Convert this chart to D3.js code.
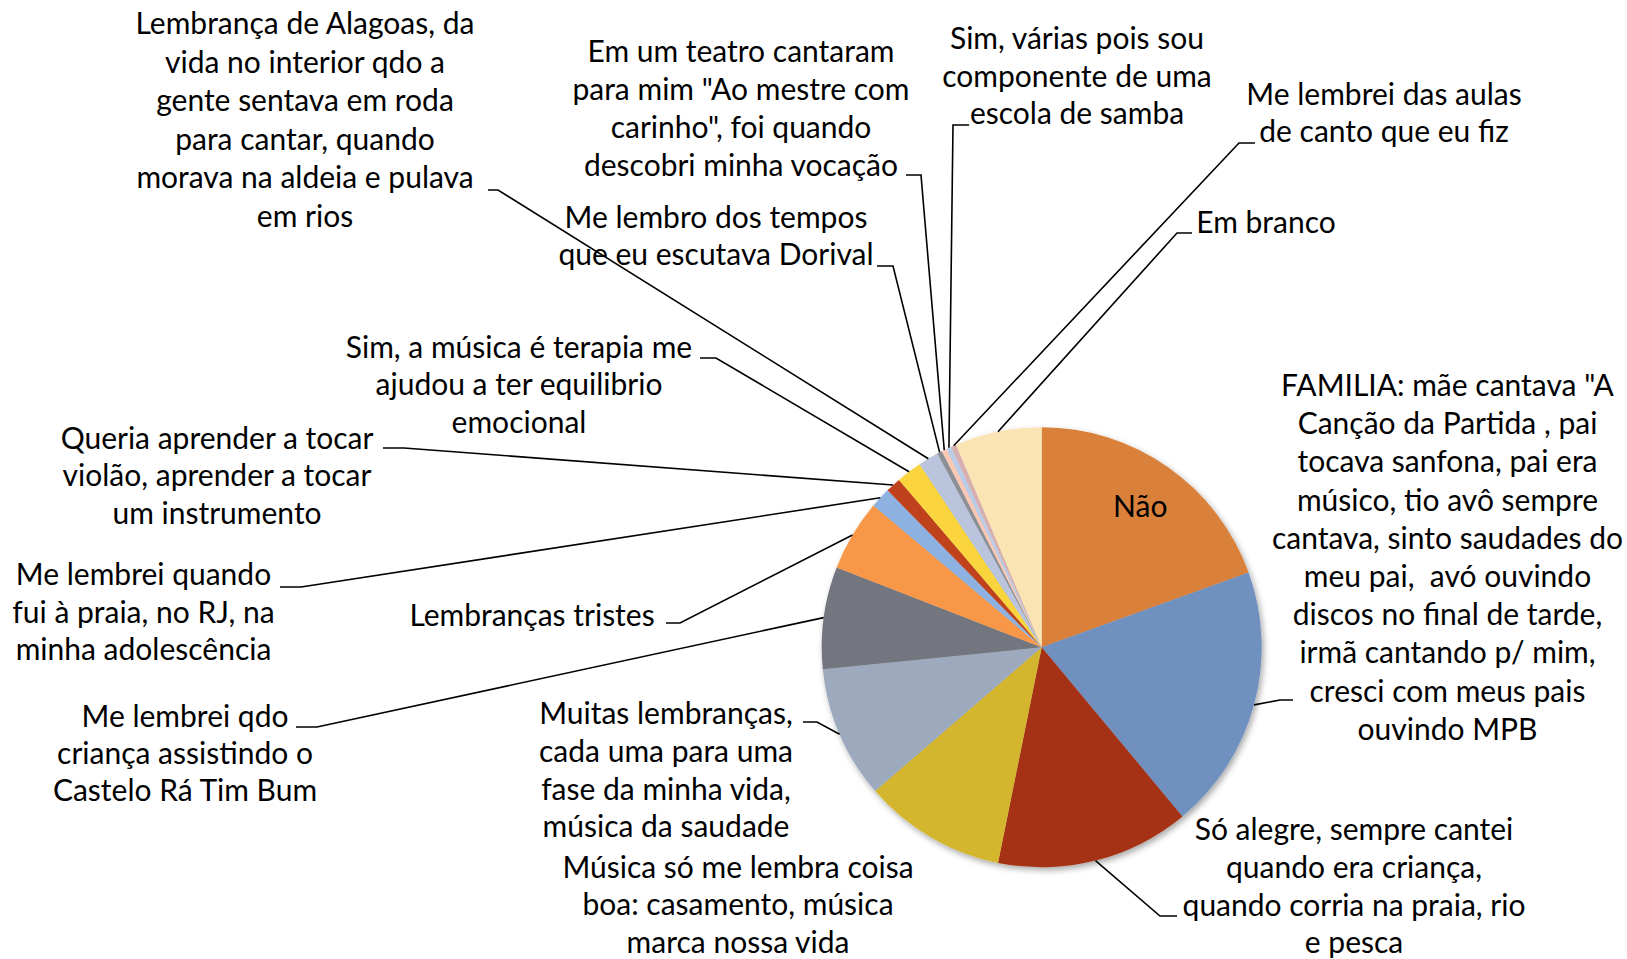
<!DOCTYPE html>
<html>
<head>
<meta charset="utf-8">
<script src="https://cdn.jsdelivr.net/npm/d3@7"></script>
<style>
  body { margin: 0; background: #fff; }
  svg text { font-family: Lato, "Open Sans", sans-serif; fill: #000; white-space: pre; }
</style>
</head>
<body>
<div id="vis-container"></div>
<script>
// answers, clockwise from 12 o'clock
var categories = ["Não", "Família", "Só alegre", "Música só me lembra coisa boa", "Muitas lembranças",
  "Castelo Rá Tim Bum", "Lembranças tristes", "Praia no RJ", "Aprender violão", "Terapia",
  "Alagoas", "Dorival", "Teatro", "Escola de samba", "Aulas de canto", "Em branco"];
var counts = [52, 52, 38, 28, 26, 20, 14, 4, 3, 5, 4, 1, 1, 1, 1, 17];
var labelLines = [
  ["Não"],
  ["FAMILIA: mãe cantava \"A", "Canção da Partida , pai", "tocava sanfona, pai era", "músico, tio avô sempre",
   "cantava, sinto saudades do", "meu pai,  avó ouvindo", "discos no final de tarde,", "irmã cantando p/ mim,",
   "cresci com meus pais", "ouvindo MPB"],
  ["Só alegre, sempre cantei", "quando era criança,", "quando corria na praia, rio", "e pesca"],
  ["Música só me lembra coisa", "boa: casamento, música", "marca nossa vida"],
  ["Muitas lembranças,", "cada uma para uma", "fase da minha vida,", "música da saudade"],
  ["Me lembrei qdo", "criança assistindo o", "Castelo Rá Tim Bum"],
  ["Lembranças tristes"],
  ["Me lembrei quando", "fui à praia, no RJ, na", "minha adolescência"],
  ["Queria aprender a tocar", "violão, aprender a tocar", "um instrumento"],
  ["Sim, a música é terapia me", "ajudou a ter equilibrio", "emocional"],
  ["Lembrança de Alagoas, da", "vida no interior qdo a", "gente sentava em roda", "para cantar, quando",
   "morava na aldeia e pulava", "em rios"],
  ["Me lembro dos tempos", "que eu escutava Dorival"],
  ["Em um teatro cantaram", "para mim \"Ao mestre com", "carinho\", foi quando", "descobri minha vocação"],
  ["Sim, várias pois sou", "componente de uma", "escola de samba"],
  ["Me lembrei das aulas", "de canto que eu fiz"],
  ["Em branco"]
];
var colors = ["#D9813A", "#6F90BF", "#A63215", "#D3B52E", "#9DA9BD", "#73767E", "#F89746", "#8DB2E2",
  "#C0431E", "#F9D43C", "#BAC4DC", "#8C9096", "#FAC8B4", "#BACCE8", "#D7AFAF", "#FBE4B4"];

// hand placed label boxes (centre x, first baseline, line height) and leader stubs [near x, far x, y]
var labelPos = [
  null,
  {x: 1447.5, y: 396, lh: 38.2, stub: [1293, 1280, 700]},
  {x: 1354, y: 840, lh: 37.8, stub: [1177, 1160, 916]},
  {x: 738, y: 877.5, lh: 37.5, stub: null},
  {x: 666, y: 724, lh: 37.8, stub: [803, 817, 722]},
  {x: 185, y: 727, lh: 37, stub: [296, 317, 727]},
  {x: 532, y: 625.5, lh: 38, stub: [666, 680, 623]},
  {x: 143.5, y: 585, lh: 37.5, stub: [280, 301, 587]},
  {x: 217, y: 448.5, lh: 37.5, stub: [383, 404, 448]},
  {x: 519, y: 357.5, lh: 37.5, stub: [700, 716, 358]},
  {x: 305, y: 34, lh: 38.5, stub: [488, 498, 190]},
  {x: 716, y: 228, lh: 37, stub: [877, 893, 266]},
  {x: 741, y: 62, lh: 38, stub: [906, 921, 175]},
  {x: 1077, y: 49, lh: 37.5, stub: [969, 953, 125]},
  {x: 1384, y: 104.5, lh: 37.5, stub: [1255, 1239, 143]},
  {x: 1266, y: 233, lh: 38, stub: [1192, 1177, 233]}
];

var width = 1627, height = 959,
    cx = 1041.7, cy = 647.3, radius = 220,
    fontSize = 30;

var svg = d3.select("#vis-container").append("svg")
    .attr("width", width)
    .attr("height", height);

var defs = svg.append("defs");
defs.append("filter").attr("id", "shadow")
    .attr("x", "-20%").attr("y", "-20%").attr("width", "140%").attr("height", "140%")
  .append("feDropShadow")
    .attr("dx", 2).attr("dy", 3).attr("stdDeviation", 3)
    .attr("flood-color", "#000").attr("flood-opacity", 0.35);

var pie = d3.pie().sort(null).value(function(d) { return d; });
var arcs = pie(counts);
var arc = d3.arc().innerRadius(0).outerRadius(radius);
var edge = d3.arc().innerRadius(radius).outerRadius(radius);
var inner = d3.arc().innerRadius(radius * 0.78).outerRadius(radius * 0.78);

var g = svg.append("g").attr("transform", "translate(" + cx + "," + cy + ")");

g.append("g").attr("filter", "url(#shadow)")
  .selectAll("path")
  .data(arcs)
  .enter()
  .append("path")
  .attr("d", arc)
  .attr("fill", function(d, i) { return colors[i]; });

// leader lines: stub then straight to the middle of the slice edge
svg.append("g").selectAll("path")
  .data(arcs.filter(function(d, i) { return labelPos[i] && labelPos[i].stub; }))
  .enter()
  .append("path")
  .attr("fill", "none")
  .attr("stroke", "#000")
  .attr("stroke-width", 1.6)
  .attr("d", function(d) {
    var s = labelPos[d.index].stub, p = edge.centroid(d);
    return "M" + s[0] + "," + s[2] + "L" + s[1] + "," + s[2] + "L" + (cx + p[0]) + "," + (cy + p[1]);
  });

// outside labels
var labels = svg.append("g").selectAll("text")
  .data(arcs.filter(function(d, i) { return labelPos[i]; }))
  .enter()
  .append("text")
  .attr("text-anchor", "middle")
  .attr("font-size", fontSize)
  .attr("transform", function(d) { return "translate(" + labelPos[d.index].x + "," + labelPos[d.index].y + ")"; });

labels.selectAll("tspan")
  .data(function(d) { return labelLines[d.index].map(function(t) { return {t: t, lh: labelPos[d.index].lh}; }); })
  .enter()
  .append("tspan")
  .attr("x", 0)
  .attr("y", function(d, i) { return i * d.lh; })
  .text(function(d) { return d.t; });

// label inside the biggest slice
g.append("text")
  .attr("text-anchor", "middle")
  .attr("dy", "0.35em")
  .attr("font-size", fontSize)
  .attr("transform", "translate(" + inner.centroid(arcs[0]) + ")")
  .text(labelLines[0][0]);
</script>
</body>
</html>
